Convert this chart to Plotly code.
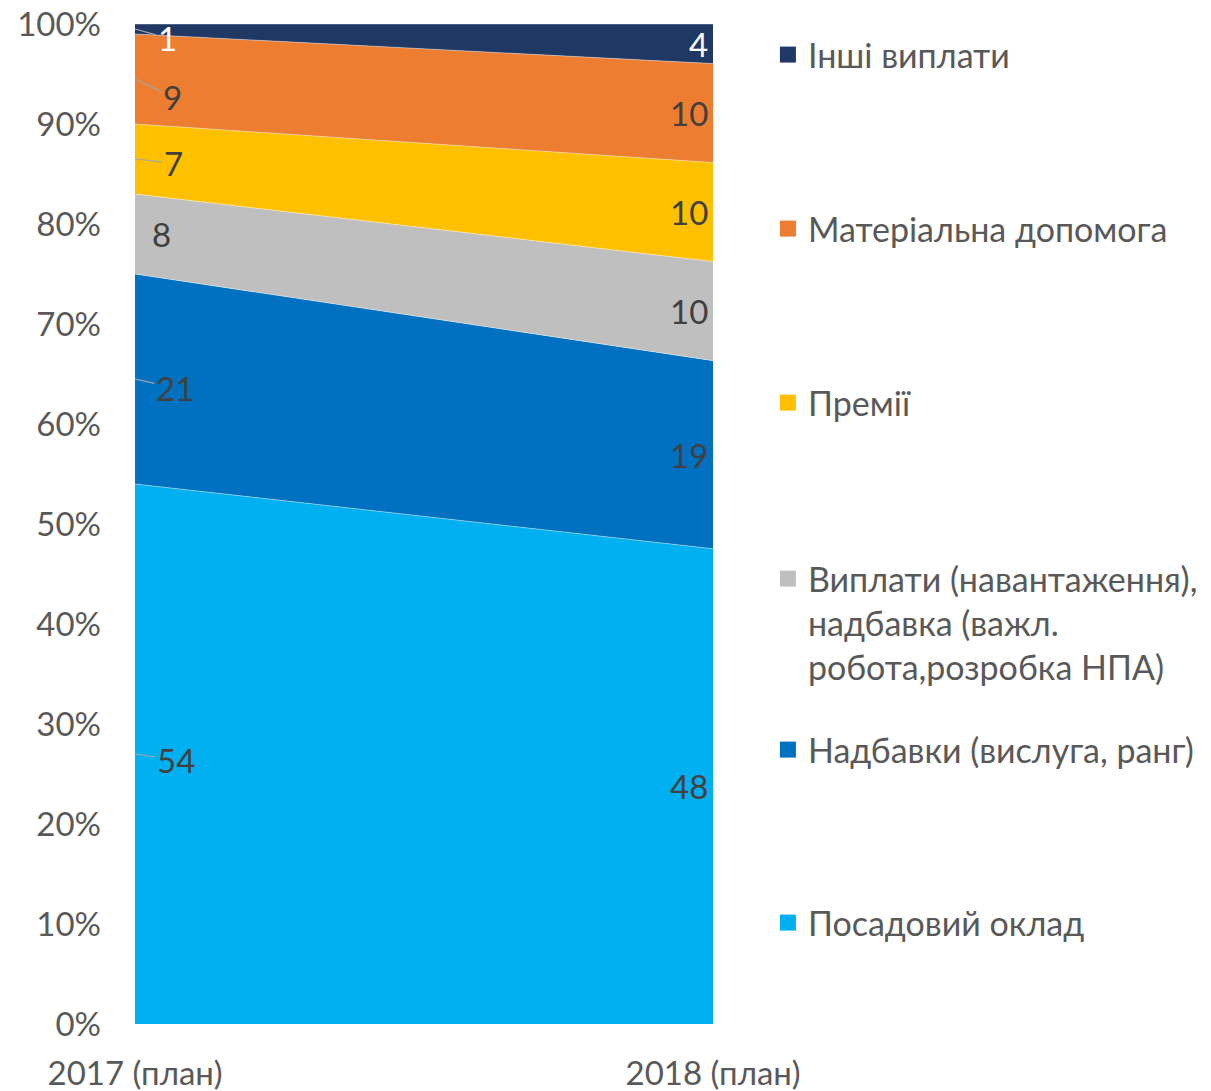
import plotly.graph_objects as go

years = ["2017 (план)", "2018 (план)"]
series_names = [
    "Посадовий оклад",
    "Надбавки (вислуга, ранг)",
    "Виплати (навантаження),<br>надбавка (важл.<br>робота,розробка НПА)",
    "Премії",
    "Матеріальна допомога",
    "Інші виплати",
]
values_2017 = [54, 21, 8, 7, 9, 1]
values_2018 = [48, 19, 10, 10, 10, 4]
colors = ["#00B0F0", "#0070C0", "#BFBFBF", "#FFC000", "#ED7D31", "#203864"]
label_colors = ["#404040", "#404040", "#404040", "#404040", "#404040", "#FFFFFF"]

FONT = "Lato, 'Noto Sans', sans-serif"
FS = 33
LFS = 34
GRAY = "#595959"

fig = go.Figure()
for i, name in enumerate(series_names):
    fig.add_trace(go.Scatter(
        x=years, y=[values_2017[i], values_2018[i]],
        mode="lines", stackgroup="one", groupnorm="percent",
        line=dict(width=0.6, color="rgba(255,255,255,0.7)"),
        fillcolor=colors[i], name=name, showlegend=False,
    ))

# Legend (one legend per item, spaced like the reference)
legend_y = [0.101, 0.274, 0.401, 0.621, 0.795, 0.969]
for i, name in enumerate(series_names):
    lg = "legend" if i == 0 else f"legend{i+1}"
    fig.add_trace(go.Scatter(
        x=[None], y=[None], mode="markers", name=name,
        marker=dict(symbol="square", size=20, color=colors[i]),
        legend=lg, showlegend=True,
    ))
    fig.update_layout(**{lg: dict(
        x=1.095, y=legend_y[i], xanchor="left", yanchor="middle",
        bgcolor="rgba(0,0,0,0)", font=dict(family=FONT, size=LFS, color=GRAY),
        itemwidth=30, valign="top", tracegroupgap=0,
    )})

# Data labels
def mids(vals):
    tot = sum(vals)
    out, c = [], 0
    for v in vals:
        p = v / tot * 100
        out.append(c + p / 2)
        c += p
    return out

m17 = mids(values_2017)
m18 = mids(values_2018)
# left labels: (ax, ay, leader)
left_off = [(41, 6, True), (40, 9, True), (27, 0, False), (38, 4, True), (37, 18, True), (32, 9, True)]
for i in range(len(series_names)):
    ax, ay, lead = left_off[i]
    if lead:
        fig.add_annotation(x=0, y=m17[i], xref="x", yref="y", text=str(values_2017[i]),
                           showarrow=True, arrowhead=0, arrowwidth=1.2, arrowcolor="#A6A6A6",
                           ax=ax, ay=ay, standoff=0,
                           font=dict(family=FONT, size=FS, color=label_colors[i]))
    else:
        fig.add_annotation(x=0, y=m17[i], xref="x", yref="y", text=str(values_2017[i]),
                           showarrow=False, xanchor="left", xshift=ax - 12,
                           font=dict(family=FONT, size=FS, color=label_colors[i]))
    fig.add_annotation(x=1, y=m18[i], xref="x", yref="y", text=str(values_2018[i]),
                       showarrow=False, xanchor="right", xshift=-3,
                       font=dict(family=FONT, size=FS, color=label_colors[i]))

fig.update_layout(
    width=1203, height=1083,
    margin=dict(l=127, r=498, t=16, b=67, autoexpand=False),
    paper_bgcolor="white", plot_bgcolor="white",
    font=dict(family=FONT, size=FS, color=GRAY),
    xaxis=dict(type="category", categoryorder="array", categoryarray=years,
               range=[0, 1], showgrid=False, zeroline=False, showline=False,
               ticks="", tickfont=dict(family=FONT, size=FS, color=GRAY),
               ticklabelstandoff=27, automargin=False, ticklabeloverflow="allow"),
    yaxis=dict(range=[0, 100], dtick=10, ticksuffix="%", showgrid=False,
               zeroline=False, showline=False, ticks="",
               tickfont=dict(family=FONT, size=FS, color=GRAY),
               ticklabelstandoff=33, automargin=False, ticklabeloverflow="allow"),
)

fig.write_html("out.html")
